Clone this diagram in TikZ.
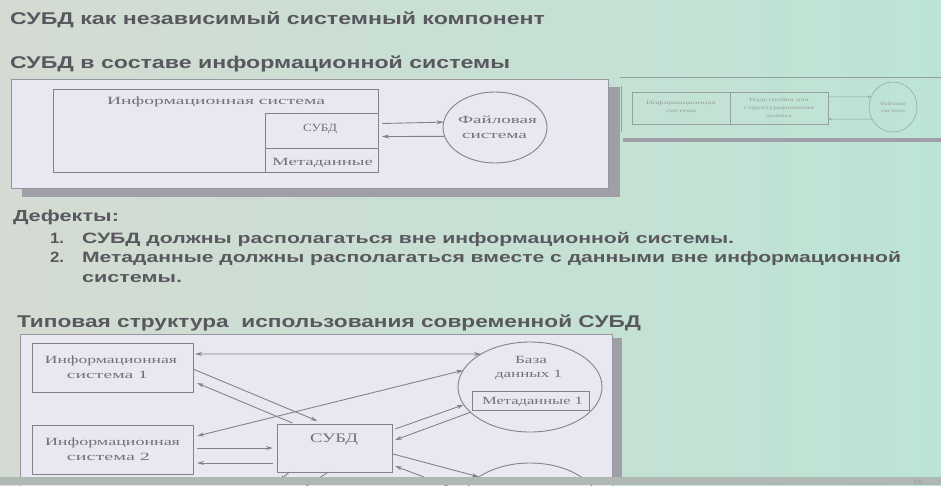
\documentclass[tikz,border=0pt]{standalone}
\usepackage{fontspec}
\usepackage{graphicx}
\setmainfont{Liberation Serif}
\newfontfamily\hsans{Liberation Sans}
\usetikzlibrary{arrows.meta,shapes.geometric}
\definecolor{bgL}{RGB}{212,219,211}
\definecolor{bgM}{RGB}{224,220,236}
\definecolor{bgR}{RGB}{188,228,212}
\definecolor{ttext}{RGB}{88,88,94}
\definecolor{dline}{RGB}{132,129,140}
\definecolor{dtext}{RGB}{115,112,122}
\definecolor{shad}{RGB}{160,158,166}
\definecolor{ffill}{RGB}{233,231,241}
\definecolor{fline}{RGB}{150,150,158}
\definecolor{mini}{RGB}{150,160,160}
\definecolor{band}{RGB}{176,184,180}
\newcommand\tw[2]{\resizebox{#1pt}{\height}{#2}}
\begin{document}
\begin{tikzpicture}[x=1pt,y=-1pt,
  rbox/.style={draw=dline, line width=0.9pt, rectangle, inner sep=0pt, outer sep=0pt},
  ebox/.style={draw=dline, line width=0.9pt, ellipse, inner sep=0pt, outer sep=0pt},
  arr/.style={draw=dline, line width=0.9pt, -{Stealth[length=7pt,width=4pt]}},
  darr/.style={draw=dline, line width=0.9pt, {Stealth[length=7pt,width=4pt]}-{Stealth[length=7pt,width=4pt]}},
  marr/.style={draw=mini, line width=0.5pt, -{Stealth[length=3.5pt,width=2.2pt]}},
  mbox/.style={draw=mini, line width=0.5pt, rectangle, inner sep=0pt, outer sep=0pt},
  lbl/.style={inner sep=0pt, outer sep=0pt, anchor=base, text=dtext},
  mlbl/.style={inner sep=0pt, outer sep=0pt, anchor=base, text=mini, font=\fontsize{5}{5}\selectfont},
  ttl/.style={inner sep=0pt, outer sep=0pt, anchor=base west, text=ttext, font=\hsans\bfseries\fontsize{17}{17}\selectfont},
  itm/.style={inner sep=0pt, outer sep=0pt, anchor=base west, text=ttext, font=\hsans\bfseries\fontsize{15}{15}\selectfont}]
\useasboundingbox (0,0) rectangle (941,485);
\clip (0,0) rectangle (941,485);
\shade[left color=bgL, middle color=bgM, right color=bgR] (0,0) rectangle (941,485);

% titles
\node[ttl] (title1) at (10,24) {\tw{535}{СУБД как независимый системный компонент}};
\node[ttl] (title2) at (10,68) {\tw{500}{СУБД в составе информационной системы}};

% ---------- top diagram ----------
\fill[shad] (22,188) rectangle (620,197);
\fill[shad] (608,87) rectangle (620,197);
\node[rbox, draw=fline, fill=ffill, minimum width=597pt, minimum height=109pt] (fr1) at (309.5,133.5) {};
\node[rbox, minimum width=325pt, minimum height=83pt] (isbig) at (215.5,130.5) {};
\node[rbox, minimum width=113pt, minimum height=35pt] (subd) at (321.5,130.5) {};
\node[rbox, minimum width=113pt, minimum height=24pt] (meta) at (321.5,160) {};
\node[ebox, minimum width=104pt, minimum height=71pt] (fs) at (495,127.5) {};
\node[lbl, font=\fontsize{11}{11}\selectfont] (tis) at (216,104) {\tw{218}{Информационная система}};
\node[lbl, font=\fontsize{11}{11}\selectfont] (tsubd) at (320,131) {\tw{34}{СУБД}};
\node[lbl, font=\fontsize{11}{11}\selectfont] (tmeta) at (322.5,165) {\tw{101}{Метаданные}};
\node[lbl, font=\fontsize{11}{11}\selectfont] (tfs1) at (497.5,123) {\tw{79}{Файловая}};
\node[lbl, font=\fontsize{11}{11}\selectfont] (tfs2) at (494.5,138) {\tw{65}{система}};
\draw[arr] ([xshift=4pt,yshift=7pt]subd.east) -- (fs.174);
\draw[arr] (fs.190) -- ([xshift=4pt,yshift=-6pt]subd.east);

% ---------- mini diagram (top right) ----------
\draw[draw=mini, line width=0.5pt] (620,77) -- (941,77);
\draw[draw=mini, line width=0.5pt] (621,86) -- (621,132);
\node[mbox, minimum width=98pt, minimum height=32pt] (mleft) at (681,108) {};
\node[mbox, minimum width=98pt, minimum height=32pt] (mright) at (779,108) {};
\node[draw=mini, line width=0.5pt, ellipse, inner sep=0pt, outer sep=0pt, minimum width=48pt, minimum height=50pt] (mfs) at (893,107) {};
\node[mlbl] (ml1) at (681,104) {\tw{70}{Информационная}};
\node[mlbl] (ml2) at (681,112) {\tw{30}{система}};
\node[mlbl] (mr1) at (779,101) {\tw{60}{Надстройка для}};
\node[mlbl] (mr2) at (779,109) {\tw{70}{структурирования}};
\node[mlbl] (mr3) at (779,117) {\tw{26}{данных}};
\node[mlbl] (mf1) at (893,105) {\tw{26}{Файловая}};
\node[mlbl] (mf2) at (893,112) {\tw{24}{система}};
\draw[marr] ([yshift=11pt]mright.east) -- (mfs.155);
\draw[marr] (mfs.210) -- ([yshift=-11pt]mright.east);
\fill[shad] (623,138) rectangle (941,142);

% ---------- defects ----------
\node[itm, font=\hsans\bfseries\fontsize{16}{16}\selectfont] (def) at (13,221) {\tw{106}{Дефекты:}};
\node[itm] (n1) at (50,243) {\tw{14}{1.}};
\node[itm] (i1) at (82,243) {\tw{652}{СУБД должны располагаться вне информационной системы.}};
\node[itm] (n2) at (50,262) {\tw{14}{2.}};
\node[itm] (i2) at (82,262) {\tw{819}{Метаданные должны располагаться вместе с данными вне информационной}};
\node[itm] (i2b) at (82,282) {\tw{100}{системы.}};
\node[ttl] (title3) at (17,327) {\tw{624}{Типовая структура\ \ использования современной СУБД}};

% ---------- bottom diagram ----------
\fill[shad] (612,338) rectangle (622,480);
\node[rbox, draw=fline, fill=ffill, minimum width=592pt, minimum height=161pt] (fr2) at (316,414.5) {};
\node[rbox, minimum width=161pt, minimum height=49pt] (is1) at (112.5,367.5) {};
\node[rbox, minimum width=161pt, minimum height=49pt] (is2) at (112.5,449.5) {};
\node[rbox, minimum width=115pt, minimum height=48pt] (subd2) at (334.5,448) {};
\node[ebox, minimum width=144pt, minimum height=90pt] (bd1) at (530,387) {};
\node[rbox, minimum width=117pt, minimum height=19pt] (meta1) at (530.5,400.5) {};
\node[ebox, minimum width=144pt, minimum height=94pt] (bd2) at (530,510) {};

\node[lbl, font=\fontsize{11}{11}\selectfont] (tis1a) at (111,363) {\tw{132}{Информационная}};
\node[lbl, font=\fontsize{11}{11}\selectfont] (tis1b) at (107.5,378) {\tw{81}{система 1}};
\node[lbl, font=\fontsize{11}{11}\selectfont] (tis2a) at (112.5,445) {\tw{135}{Информационная}};
\node[lbl, font=\fontsize{11}{11}\selectfont] (tis2b) at (108.5,460) {\tw{83}{система 2}};
\node[lbl, font=\fontsize{13}{13}\selectfont] (tsubd2) at (334,442) {\tw{48}{СУБД}};
\node[lbl, font=\fontsize{11}{11}\selectfont] (tbd1a) at (531,363) {\tw{32}{База}};
\node[lbl, font=\fontsize{11}{11}\selectfont] (tbd1b) at (528.5,377) {\tw{67}{данных 1}};
\node[lbl, font=\fontsize{11}{11}\selectfont] (tmeta1) at (532.5,404) {\tw{101}{Метаданные 1}};

\draw[darr] ([xshift=2pt,yshift=13.5pt]is1.east) -- (bd1.146);
\draw[arr] ([yshift=-1.5pt]is1.east) -- ([xshift=-17pt,yshift=3pt]subd2.north);
\draw[arr] ([xshift=-42pt,yshift=1pt]subd2.north) -- ([xshift=4pt,yshift=-15.5pt]is1.east);
\draw[darr] ([xshift=4pt,yshift=13.5pt]is2.east) -- (bd1.166);
\draw[arr] ([xshift=4pt,yshift=1.5pt]is2.east) -- ([xshift=-4pt]subd2.west);
\draw[arr] ([xshift=-4pt,yshift=-15pt]subd2.west) -- ([xshift=4pt,yshift=-13.5pt]is2.east);
\draw[arr] ([xshift=3pt,yshift=19pt]subd2.east) -- (bd1.195);
\draw[arr] (bd1.203) -- ([xshift=3pt,yshift=8pt]subd2.east);
\draw[arr] ([xshift=1pt,yshift=-6pt]subd2.east) -- (bd2.147);
\draw[arr] (bd2.165) -- ([xshift=3pt,yshift=-18pt]subd2.east);
\coordinate (dn1) at (279,481);
\coordinate (dn2) at (305,487);
\draw[arr] ([xshift=-45pt]subd2.south) -- (dn1);
\draw[draw=dline, line width=0.9pt] ([xshift=-6pt]subd2.south) -- (dn2);

% bottom band
\fill[band] (0,477) rectangle (941,485);
\node[inner sep=0pt, anchor=base, text=mini, font=\hsans\fontsize{6}{6}\selectfont] (en) at (918,484) {EN};
\end{tikzpicture}
\end{document}
